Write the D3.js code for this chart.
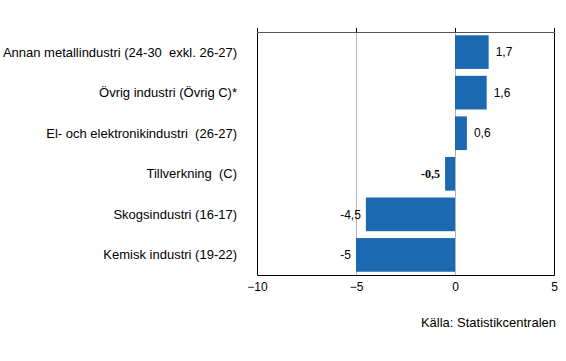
<!DOCTYPE html>
<html>
<head>
<meta charset="utf-8">
<script src="https://cdn.jsdelivr.net/npm/d3@7"></script>
<style>
  body { margin: 0; background: #fff; }
  text { font-family: "Liberation Sans", Arial, sans-serif; }
</style>
</head>
<body>
<script>
//chart data
var categories = ["Annan metallindustri (24-30  exkl. 26-27)", "Övrig industri (Övrig C)*",
    "El- och elektronikindustri  (26-27)", "Tillverkning  (C)",
    "Skogsindustri (16-17)", "Kemisk industri (19-22)"];
var values = [1.7, 1.6, 0.6, -0.5, -4.5, -5];
var valueLabels = ["1,7", "1,6", "0,6", "-0,5", "-4,5", "-5"];
var tickValues = [-10, -5, 0, 5];
var source = "Källa: Statistikcentralen";

var width = 566,
    height = 361;
var margin = {top: 32, right: 12, bottom: 86, left: 257};

var svg = d3.select("body")
    .append("svg")
    .attr("width", width)
    .attr("height", height);

var x = d3.scaleLinear()
    .domain([-10, 5])
    .range([margin.left, width - margin.right]);

var y = d3.scaleBand()
    .domain(categories)
    .range([margin.top, height - margin.bottom])
    .paddingInner(0.17)
    .paddingOuter(0.08);

//grid lines
svg.selectAll(".grid")
    .data(tickValues.filter(function(d){ return d > -10 && d < 5; }))
    .enter()
    .append("line")
    .attr("x1", function(d){ return x(d) + 0.5; })
    .attr("x2", function(d){ return x(d) + 0.5; })
    .attr("y1", margin.top)
    .attr("y2", height - margin.bottom)
    .attr("stroke", "#b4b4b4")
    .attr("stroke-width", 1);

//bars
svg.selectAll(".bar")
    .data(values)
    .enter()
    .append("rect")
    .attr("class", "bar")
    .attr("x", function(d){ return x(Math.min(0, d)); })
    .attr("width", function(d){ return Math.abs(x(d) - x(0)); })
    .attr("y", function(d, i){ return y(categories[i]); })
    .attr("height", y.bandwidth())
    .attr("fill", "#1b69b0");

//frame
var x0 = x.range()[0] + 0.5, x1 = x.range()[1] + 0.5,
    y0 = margin.top + 0.5, y1 = height - margin.bottom + 0.5;
svg.append("path")
    .attr("d", "M" + x0 + "," + y0 + "V" + y1 + "H" + x1 + "V" + y0)
    .attr("fill", "none")
    .attr("stroke", "#000");
svg.append("line")
    .attr("x1", x0).attr("x2", x1)
    .attr("y1", y0).attr("y2", y0)
    .attr("stroke", "#555");

//top ticks
var topAxis = svg.append("g")
    .attr("transform", "translate(0," + margin.top + ")")
    .call(d3.axisTop(x).tickValues(tickValues).tickSize(4).tickFormat(""));
topAxis.select(".domain").remove();
topAxis.selectAll("line").attr("stroke", "#000");

//bottom tick labels
var bottomAxis = svg.append("g")
    .attr("transform", "translate(0," + (height - margin.bottom) + ")")
    .call(d3.axisBottom(x).tickValues(tickValues).tickSize(0).tickPadding(7));
bottomAxis.select(".domain").remove();
bottomAxis.selectAll("text")
    .attr("font-family", "Liberation Sans, Arial, sans-serif")
    .attr("font-size", 12)
    .attr("fill", "#000");

//category labels
svg.selectAll(".cat")
    .data(categories)
    .enter()
    .append("text")
    .attr("x", margin.left - 20)
    .attr("y", function(d){ return y(d) + y.bandwidth() / 2; })
    .attr("dy", "0.35em")
    .attr("text-anchor", "end")
    .attr("font-size", 13)
    .attr("fill", "#000")
    .style("white-space", "pre")
    .text(function(d){ return d; });

//value labels
svg.selectAll(".val")
    .data(values)
    .enter()
    .append("text")
    .attr("x", function(d){ return d >= 0 ? x(d) + 7 : x(d) - 5; })
    .attr("y", function(d, i){ return y(categories[i]) + y.bandwidth() / 2; })
    .attr("dy", "0.35em")
    .attr("text-anchor", function(d){ return d >= 0 ? "start" : "end"; })
    .attr("font-size", 12)
    .attr("fill", "#000")
    .style("font-family", function(d, i){ return i === 3 ? "Liberation Serif, Times New Roman, serif" : null; })
    .style("font-weight", function(d, i){ return i === 3 ? "bold" : null; })
    .text(function(d, i){ return valueLabels[i]; });

//source
svg.append("text")
    .attr("x", width - 10)
    .attr("y", 322)
    .attr("dy", "0.35em")
    .attr("text-anchor", "end")
    .attr("font-size", 13)
    .attr("fill", "#000")
    .text(source);
</script>
</body>
</html>
